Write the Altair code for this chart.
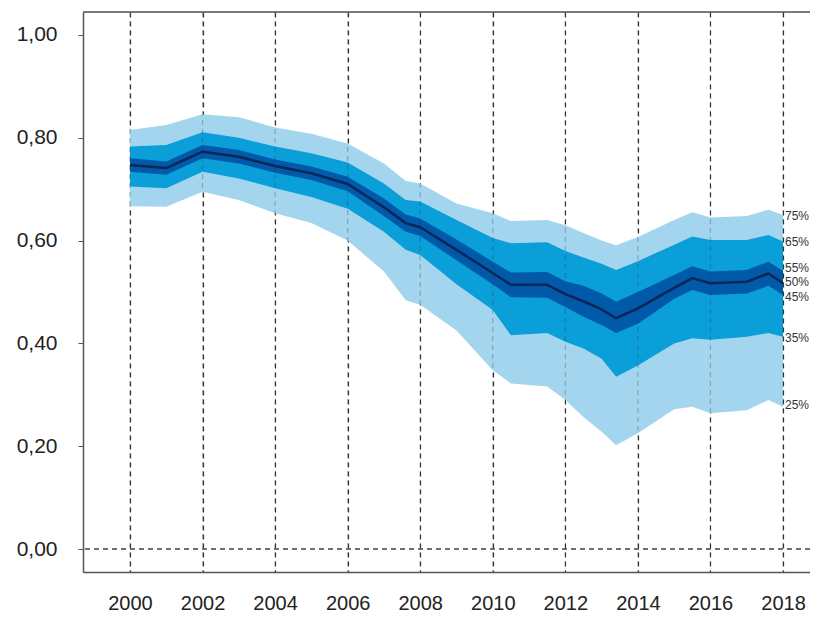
import altair as alt
import pandas as pd

years = [2000, 2001, 2002, 2003, 2004, 2005, 2006, 2007, 2007.6, 2008, 2009, 2010, 2010.5,
         2011.5, 2012, 2012.5, 2013, 2013.4, 2014, 2015, 2015.5, 2016, 2017, 2017.6, 2018]

p75 = [.815, .825, .846, .840, .820, .808, .789, .750, .716, .711, .672, .653, .638,
       .640, .630, .615, .600, .591, .607, .640, .655, .645, .648, .660, .650]
p65 = [.783, .786, .811, .800, .783, .770, .752, .711, .679, .676, .640, .605, .595,
       .597, .580, .567, .555, .543, .560, .592, .608, .601, .601, .611, .598]
p55 = [.760, .754, .786, .776, .758, .744, .724, .682, .651, .643, .602, .559, .538,
       .539, .521, .512, .497, .481, .500, .533, .550, .540, .543, .559, .541]
p50 = [.747, .741, .773, .763, .745, .731, .710, .665, .634, .626, .582, .537, .514,
       .514, .496, .482, .466, .449, .468, .508, .527, .517, .520, .536, .517]
p45 = [.734, .728, .760, .750, .732, .718, .696, .648, .617, .609, .562, .515, .490,
       .489, .471, .452, .436, .420, .438, .487, .504, .494, .497, .512, .494]
p35 = [.705, .702, .734, .721, .702, .685, .662, .617, .582, .572, .515, .465, .416,
       .420, .403, .390, .370, .335, .357, .400, .410, .407, .413, .420, .413]
p25 = [.667, .666, .695, .679, .653, .634, .600, .540, .484, .475, .425, .348, .322,
       .316, .290, .257, .228, .202, .225, .272, .277, .264, .270, .290, .277]

label_text = ["75%", "65%", "55%", "50%", "45%", "35%", "25%"]
label_value = [.648, .597, .547, .519, .490, .410, .280]
label_year = [2018] * 7

grid_years = [2000, 2002, 2004, 2006, 2008, 2010, 2012, 2014, 2016, 2018]
y_ticks = [0.0, 0.2, 0.4, 0.6, 0.8, 1.0]

df = pd.DataFrame({"year": years, "p75": p75, "p65": p65, "p55": p55, "p50": p50,
                   "p45": p45, "p35": p35, "p25": p25})
lab = pd.DataFrame({"year": label_year, "v": label_value, "t": label_text})
grid = pd.DataFrame({"year": grid_years})
zero = pd.DataFrame({"v": [0.0]})

W, H = 727, 560
xscale = alt.Scale(domain=[1998.705, 2018.744], nice=False, zero=False)
yscale = alt.Scale(domain=[-0.0447, 1.0447], nice=False, zero=False)

xax = alt.Axis(values=grid_years, format="d", title=None, ticks=False, labelPadding=21,
               labelFontSize=20, labelColor="#222", labelFont="Liberation Sans",
               domainColor="#555", domainWidth=1.5,
               grid=True, gridColor="#333", gridDash=[5, 4], gridWidth=1.2, gridOpacity=1)
yax = alt.Axis(values=y_ticks, title=None, tickSize=5, tickColor="#555", labelPadding=21,
               labelExpr="replace(format(datum.value, '.2f'), '.', ',')",
               labelFontSize=21, labelColor="#222", labelFont="Liberation Sans",
               domainColor="#555", domainWidth=1.5, grid=False)

base = alt.Chart(df)
x = alt.X("year:Q", scale=xscale, axis=xax)

light = base.mark_area(color="#a3d6ee").encode(
    x=x, y=alt.Y("p25:Q", scale=yscale, axis=yax), y2="p75:Q")
mid = base.mark_area(color="#0a9fd8").encode(
    x="year:Q", y="p35:Q", y2="p65:Q")
dark = base.mark_area(color="#0059a9").encode(
    x="year:Q", y="p45:Q", y2="p55:Q")
med = base.mark_line(color="#0b2557", strokeWidth=2.5, strokeJoin="round").encode(
    x="year:Q", y="p50:Q")

grid_over = alt.Chart(grid).mark_rule(color="#333", strokeDash=[5, 4], strokeWidth=1.2,
                                      opacity=0.3).encode(x="year:Q")
zero_rule = alt.Chart(zero).mark_rule(color="#444", strokeDash=[5, 4], strokeWidth=1.3).encode(y="v:Q")
top_rule = alt.Chart(zero).mark_rule(color="#555", strokeWidth=1.5).encode(
    x=alt.value(0), x2=alt.value(W), y=alt.value(0))

labels = alt.Chart(lab).mark_text(align="left", baseline="middle", dx=2, fontSize=12,
                                  font="Liberation Sans", color="#333").encode(
    x="year:Q", y="v:Q", text="t:N")

chart = alt.layer(light, mid, dark, med, grid_over, zero_rule, top_rule, labels).properties(
    width=W, height=H,
    autosize=alt.AutoSizeParams(type="none"),
    padding={"left": 75, "top": 4, "right": 0, "bottom": 44},
).configure_view(stroke=None).configure(background="white")

chart.save("out.html", embed_options={"renderer": "svg", "actions": False})
